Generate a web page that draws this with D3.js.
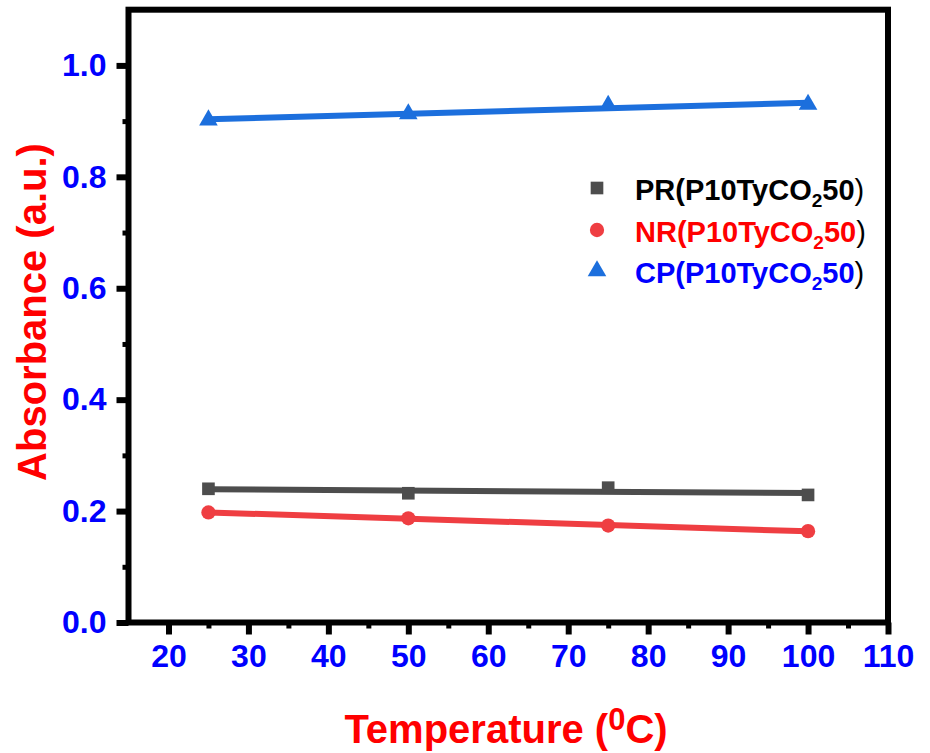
<!DOCTYPE html>
<html>
<head>
<meta charset="utf-8">
<script src="https://d3js.org/d3.v7.min.js"></script>
<style>
  body { margin: 0; background: #fff; }
  svg text { font-family: "Liberation Sans", Arial, sans-serif; font-weight: bold; }
</style>
</head>
<body>
<script>
// temperatures (deg C) and absorbance
const temps = [25, 50, 75, 100];
const prValues = [0.240, 0.232, 0.242, 0.229];
const nrValues = [0.1975, 0.187, 0.174, 0.164];
const cpValues = [0.902, 0.913, 0.928, 0.930];

const xTicks = [20, 30, 40, 50, 60, 70, 80, 90, 100, 110];
const xMinor = [25, 35, 45, 55, 65, 75, 85, 95, 105];
const yTicks = [0, 0.2, 0.4, 0.6, 0.8, 1.0];
const yMinor = [0.1, 0.3, 0.5, 0.7, 0.9];

const seriesNames = ["PR", "NR", "CP"];
const sampleName = "P10TyCO";

const width = 930, height = 753;
const plotLeft = 128.5, plotRight = 888, plotTop = 9.7, plotBottom = 622.5;

const svg = d3.select("body").append("svg")
  .attr("width", width)
  .attr("height", height);

const x = d3.scaleLinear().domain([15, 110]).range([plotLeft, plotRight]);
const y = d3.scaleLinear().domain([0, 1.1]).range([plotBottom, plotTop]);

// least squares line through the points (the figure shows linear fits)
function fit(xs, ys) {
  const mx = d3.mean(xs), my = d3.mean(ys);
  const sxy = d3.sum(xs, (v, i) => (v - mx) * (ys[i] - my));
  const sxx = d3.sum(xs, v => (v - mx) * (v - mx));
  const b = sxy / sxx;
  return t => my + b * (t - mx);
}

const series = [
  {name: seriesNames[0], values: prValues, color: "#4d4d4d", text: "#000000", symbol: d3.symbolSquare, size: 160},
  {name: seriesNames[1], values: nrValues, color: "#ef3e42", text: "#ff0000", symbol: d3.symbolCircle, size: 160},
  {name: seriesNames[2], values: cpValues, color: "#1c6fdd", text: "#0000ff", symbol: d3.symbolTriangle, size: 150}
];

// axes: ticks only, the frame is drawn afterwards
const xAxis = svg.append("g")
  .attr("transform", `translate(0,${plotBottom})`)
  .call(d3.axisBottom(x).tickValues(xTicks).tickSize(12).tickPadding(10));
xAxis.select(".domain").remove();
xAxis.selectAll("line").attr("stroke", "#000").attr("stroke-width", 6);
xAxis.selectAll("text")
  .attr("fill", "#0000ff")
  .attr("font-size", 32)
  .attr("dy", "0.71em");

const xAxisMinor = svg.append("g")
  .attr("transform", `translate(0,${plotBottom})`)
  .call(d3.axisBottom(x).tickValues(xMinor).tickSize(6).tickFormat(""));
xAxisMinor.select(".domain").remove();
xAxisMinor.selectAll("line").attr("stroke", "#000").attr("stroke-width", 5);

const yAxis = svg.append("g")
  .attr("transform", `translate(${plotLeft},0)`)
  .call(d3.axisLeft(y).tickValues(yTicks).tickSize(12).tickPadding(10).tickFormat(d3.format(".1f")));
yAxis.select(".domain").remove();
yAxis.selectAll("line").attr("stroke", "#000").attr("stroke-width", 6);
yAxis.selectAll("text")
  .attr("fill", "#0000ff")
  .attr("font-size", 32);

const yAxisMinor = svg.append("g")
  .attr("transform", `translate(${plotLeft},0)`)
  .call(d3.axisLeft(y).tickValues(yMinor).tickSize(6).tickFormat(""));
yAxisMinor.select(".domain").remove();
yAxisMinor.selectAll("line").attr("stroke", "#000").attr("stroke-width", 5);

// frame
svg.append("rect")
  .attr("x", plotLeft)
  .attr("y", plotTop)
  .attr("width", plotRight - plotLeft)
  .attr("height", plotBottom - plotTop)
  .attr("fill", "none")
  .attr("stroke", "#000")
  .attr("stroke-width", 6);

// fit lines and points
series.forEach(s => {
  const f = fit(temps, s.values);
  const ends = [d3.min(temps), d3.max(temps)];
  svg.append("line")
    .attr("x1", x(ends[0])).attr("y1", y(f(ends[0])))
    .attr("x2", x(ends[1])).attr("y2", y(f(ends[1])))
    .attr("stroke", s.color)
    .attr("stroke-width", 6);

  svg.append("g").selectAll("path")
    .data(temps)
    .join("path")
    .attr("transform", (d, i) => `translate(${x(d)},${y(s.values[i])})`)
    .attr("d", d3.symbol().type(s.symbol).size(s.size))
    .attr("fill", s.color);
});

// legend
const legend = svg.append("g");
const legendY = [188, 230, 271];
series.forEach((s, i) => {
  legend.append("path")
    .attr("transform", `translate(597,${legendY[i]})`)
    .attr("d", d3.symbol().type(s.symbol).size(s.size))
    .attr("fill", s.color);

  const t = legend.append("text")
    .attr("x", 635)
    .attr("y", legendY[i] + 12)
    .attr("font-size", 29)
    .attr("fill", s.text);
  t.append("tspan").text(s.name + "(" + sampleName);
  t.append("tspan").attr("font-size", 19).attr("dy", 7).text("2");
  t.append("tspan").attr("dy", -7).text("50");
  t.append("tspan").attr("fill", "#000").attr("font-weight", "normal").text(")");
});

// axis titles
svg.append("text")
  .attr("transform", "translate(46,312) rotate(-90)")
  .attr("text-anchor", "middle")
  .attr("font-size", 40)
  .attr("fill", "#ff0000")
  .text("Absorbance (a.u.)");

const xt = svg.append("text")
  .attr("x", 506)
  .attr("y", 743)
  .attr("text-anchor", "middle")
  .attr("font-size", 40)
  .attr("fill", "#ff0000");
xt.append("tspan").text("Temperature (");
xt.append("tspan").attr("font-size", 31).attr("dy", -13).text("0");
xt.append("tspan").attr("dy", 13).text("C)");
</script>
</body>
</html>
